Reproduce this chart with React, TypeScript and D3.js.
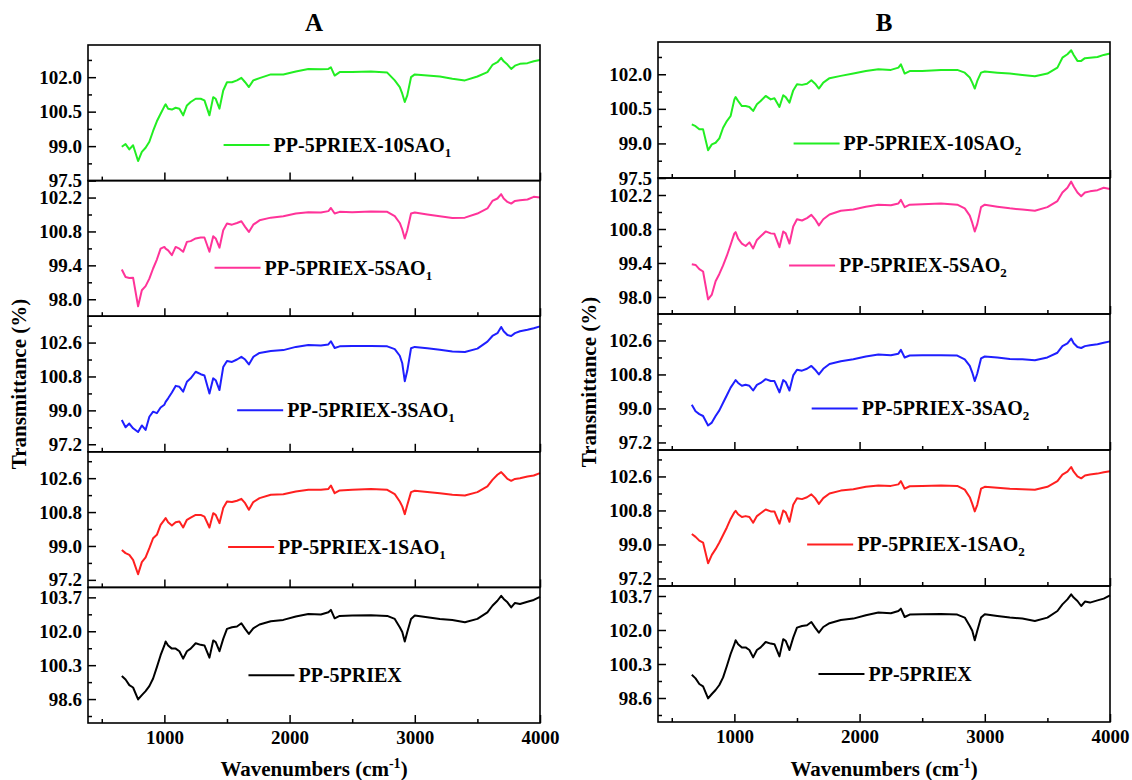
import React, { Component } from "react";
import * as d3 from "d3";

// wavenumber grid shared by every spectrum (cm-1)
const wavenumbers = [
  660, 690, 720, 750, 790, 820, 850, 880, 910, 940, 970, 1000, 1010, 1030, 1060, 1090, 1120, 1150,
  1180, 1210, 1250, 1290, 1320, 1360, 1390, 1410, 1440, 1470, 1500, 1540, 1580, 1615, 1645, 1675,
  1710, 1760, 1850, 1950, 2050, 2150, 2250, 2310, 2330, 2360, 2400, 2500, 2650, 2780, 2840, 2880,
  2900, 2920, 2940, 2970, 3000, 3100, 3200, 3300, 3400, 3500, 3580, 3620, 3660, 3690, 3710, 3740,
  3770, 3800, 3840, 3900, 3950, 4000,
];

// PP-5PRIEX (same sample in both panels)
const pp5priex = [
  99.76, 99.58, 99.3, 99.18, 98.58, 98.8, 99.0, 99.25, 99.63, 100.2, 100.8, 101.29, 101.49, 101.29,
  101.13, 101.13, 101.0, 100.63, 101.0, 101.13, 101.4, 101.32, 101.29, 100.68, 101.54, 101.46, 101.0,
  101.62, 102.12, 102.2, 102.24, 102.4, 102.12, 101.87, 102.15, 102.34, 102.5, 102.57, 102.74, 102.87,
  102.84, 102.95, 103.07, 102.65, 102.77, 102.79, 102.8, 102.77, 102.62, 102.2, 101.96, 101.49,
  101.96, 102.62, 102.79, 102.7, 102.62, 102.57, 102.45, 102.62, 102.95, 103.28, 103.53, 103.78,
  103.62, 103.45, 103.2, 103.42, 103.37, 103.48, 103.57, 103.73,
];

// panel A (SAO1)
const sao1_10 = [
  98.97, 99.09, 98.86, 99.04, 98.35, 98.75, 98.93, 99.19, 99.66, 100.08, 100.41, 100.73, 100.82,
  100.63, 100.59, 100.67, 100.63, 100.34, 100.77, 100.92, 101.06, 101.06, 100.99, 100.34, 101.13,
  101.06, 100.63, 101.42, 101.78, 101.78, 101.86, 101.97, 101.78, 101.57, 101.86, 101.96, 102.12,
  102.12, 102.25, 102.36, 102.35, 102.36, 102.43, 102.07, 102.22, 102.22, 102.25, 102.2, 101.86,
  101.57, 101.28, 100.92, 101.21, 102.0, 102.12, 102.07, 102.03, 101.93, 101.86, 102.03, 102.22,
  102.53, 102.65, 102.84, 102.69, 102.55, 102.36, 102.5, 102.58, 102.61, 102.69, 102.75,
];
const sao1_5 = [
  99.23, 98.92, 98.88, 98.89, 97.71, 98.37, 98.54, 98.85, 99.27, 99.64, 100.09, 100.16, 100.09,
  100.02, 99.82, 100.16, 100.09, 99.96, 100.37, 100.4, 100.51, 100.55, 100.55, 99.96, 100.6, 100.51,
  100.13, 100.85, 101.13, 101.08, 101.15, 101.22, 100.99, 100.78, 101.08, 101.26, 101.37, 101.43,
  101.54, 101.59, 101.58, 101.64, 101.77, 101.54, 101.61, 101.59, 101.62, 101.61, 101.43, 101.15,
  100.88, 100.51, 100.85, 101.54, 101.58, 101.5, 101.43, 101.36, 101.37, 101.54, 101.75, 102.06,
  102.16, 102.34, 102.16, 102.02, 101.95, 102.06, 102.09, 102.12, 102.23, 102.2,
];
const sao1_3 = [
  98.49, 98.1, 98.3, 98.05, 97.85, 98.2, 97.96, 98.66, 98.93, 98.85, 99.15, 99.3, 99.45, 99.64,
  99.95, 100.3, 100.25, 99.99, 100.52, 100.7, 101.05, 100.92, 100.85, 99.9, 100.7, 100.6, 100.08,
  101.3, 101.62, 101.57, 101.7, 101.84, 101.7, 101.44, 101.84, 102.05, 102.15, 102.2, 102.37, 102.47,
  102.44, 102.5, 102.67, 102.31, 102.4, 102.42, 102.42, 102.4, 102.25, 101.9, 101.5, 100.55, 101.1,
  102.3, 102.37, 102.3, 102.22, 102.12, 102.1, 102.28, 102.65, 102.95, 103.1, 103.43, 103.2, 103.0,
  102.95, 103.1, 103.2, 103.28, 103.36, 103.46,
];
const sao1_1 = [
  98.79, 98.62, 98.53, 98.26, 97.5, 98.14, 98.39, 98.88, 99.41, 99.59, 100.12, 100.39, 100.48, 100.26,
  100.09, 100.26, 100.3, 99.98, 100.39, 100.51, 100.65, 100.65, 100.56, 99.98, 100.74, 100.65, 100.21,
  101.01, 101.36, 101.33, 101.4, 101.5, 101.27, 100.92, 101.33, 101.54, 101.72, 101.75, 101.89,
  101.98, 101.98, 102.03, 102.21, 101.8, 101.95, 101.98, 102.02, 101.98, 101.75, 101.36, 101.1,
  100.69, 101.18, 101.86, 101.93, 101.86, 101.8, 101.72, 101.68, 101.86, 102.16, 102.51, 102.78,
  102.92, 102.78, 102.56, 102.46, 102.56, 102.6, 102.69, 102.74, 102.87,
];

// panel B (SAO2)
const sao2_10 = [
  99.83, 99.75, 99.61, 99.61, 98.7, 98.96, 99.03, 99.22, 99.68, 99.97, 100.19, 100.91, 101.01,
  100.84, 100.62, 100.62, 100.58, 100.41, 100.7, 100.84, 101.06, 100.91, 100.96, 100.58, 101.09,
  101.01, 100.77, 101.3, 101.57, 101.54, 101.59, 101.74, 101.59, 101.38, 101.64, 101.83, 101.93,
  102.03, 102.14, 102.22, 102.19, 102.29, 102.43, 102.03, 102.14, 102.14, 102.19, 102.19, 102.07,
  101.86, 101.64, 101.38, 101.71, 102.07, 102.12, 102.07, 102.03, 101.97, 101.91, 102.03, 102.29,
  102.72, 102.87, 103.04, 102.84, 102.58, 102.58, 102.7, 102.72, 102.75, 102.84, 102.9,
];
const sao2_5 = [
  99.35, 99.32, 99.15, 99.05, 97.9, 98.1, 98.65, 98.95, 99.3, 99.7, 100.15, 100.62, 100.67, 100.4,
  100.2, 100.1, 100.25, 100.0, 100.35, 100.5, 100.7, 100.62, 100.6, 100.05, 100.7, 100.62, 100.2,
  100.9, 101.2, 101.15, 101.25, 101.38, 101.2, 100.95, 101.2, 101.4, 101.55, 101.6, 101.72, 101.8,
  101.78, 101.85, 102.0, 101.7, 101.8, 101.82, 101.85, 101.8, 101.65, 101.35, 101.05, 100.7, 101.0,
  101.7, 101.8, 101.72, 101.65, 101.6, 101.55, 101.7, 101.95, 102.3, 102.5, 102.75, 102.55, 102.3,
  102.15, 102.3, 102.35, 102.4, 102.5, 102.45,
];
const sao2_3 = [
  99.2, 98.85, 98.7, 98.6, 98.1, 98.25, 98.6, 98.9, 99.3, 99.7, 100.1, 100.4, 100.5, 100.35, 100.2,
  100.25, 100.2, 99.95, 100.25, 100.35, 100.55, 100.45, 100.45, 99.85, 100.5, 100.4, 99.95, 100.75,
  101.05, 101.0, 101.1, 101.25, 101.05, 100.8, 101.1, 101.35, 101.5, 101.6, 101.75, 101.85, 101.82,
  101.9, 102.1, 101.7, 101.8, 101.82, 101.82, 101.8, 101.6, 101.25, 100.9, 100.45, 100.85, 101.65,
  101.75, 101.7, 101.62, 101.6, 101.55, 101.7, 101.95, 102.3, 102.45, 102.7, 102.45, 102.25, 102.2,
  102.3, 102.35, 102.4, 102.48, 102.55,
];
const sao2_1 = [
  99.55, 99.4, 99.2, 99.1, 98.0, 98.45, 98.75, 99.1, 99.5, 99.9, 100.35, 100.7, 100.78, 100.6,
  100.45, 100.5, 100.45, 100.15, 100.5, 100.65, 100.85, 100.75, 100.75, 100.1, 100.8, 100.7, 100.2,
  101.1, 101.45, 101.4, 101.5, 101.65, 101.45, 101.15, 101.45, 101.7, 101.85, 101.92, 102.05, 102.12,
  102.1, 102.18, 102.35, 101.95, 102.08, 102.1, 102.12, 102.1, 101.9, 101.5, 101.15, 100.75, 101.1,
  101.95, 102.05, 102.0, 101.95, 101.92, 101.9, 102.05, 102.35, 102.7, 102.85, 103.1, 102.85, 102.6,
  102.5, 102.65, 102.7, 102.75, 102.82, 102.88,
];

const seriesNames = ["PP-5PRIEX-10SAO", "PP-5PRIEX-5SAO", "PP-5PRIEX-3SAO", "PP-5PRIEX-1SAO", "PP-5PRIEX"];
const seriesColors = ["#22ee22", "#ff3399", "#1f1fff", "#ff2020", "#000000"];

// y ranges and labelled ticks of the five stacked rows (top to bottom)
const rowDomains = [
  [97.5, 103.4],
  [97.3, 102.9],
  [96.8, 104.0],
  [96.8, 104.0],
  [97.4, 104.2],
];
const rowTicks = [
  [97.5, 99.0, 100.5, 102.0],
  [98.0, 99.4, 100.8, 102.2],
  [97.2, 99.0, 100.8, 102.6],
  [97.2, 99.0, 100.8, 102.6],
  [98.6, 100.3, 102.0, 103.7],
];
const xTicks = [1000, 2000, 3000, 4000];
const xMinorTicks = [500, 1500, 2500, 3500];

const panels = [
  {
    title: "A",
    sub: "1",
    series: [sao1_10, sao1_5, sao1_3, sao1_1, pp5priex],
    box: { left: 88, right: 540, top: 45, bottom: 723 },
    // legend: [line start as fraction of width, y value]
    legend: [[0.3, 99.05], [0.28, 99.3], [0.33, 99.0], [0.31, 98.95], [0.355, 99.8]],
  },
  {
    title: "B",
    sub: "2",
    series: [sao2_10, sao2_5, sao2_3, sao2_1, pp5priex],
    box: { left: 658, right: 1110, top: 42, bottom: 722 },
    legend: [[0.3, 99.0], [0.29, 99.3], [0.34, 99.0], [0.33, 99.0], [0.355, 99.8]],
  },
];

const FONT = "'Liberation Serif', 'Times New Roman', serif";

class App extends Component {
  constructor(props) {
    super(props);
    this.chartRef = React.createRef();
  }

  componentDidMount() {
    this.renderChart();
  }

  renderChart() {
    const root = d3.select(this.chartRef.current);
    root.selectAll("*").remove();

    const svg = root
      .append("svg")
      .attr("width", 1132)
      .attr("height", 780)
      .style("position", "absolute")
      .style("left", 0)
      .style("top", 0)
      .style("background", "#fff")
      .style("font-family", FONT)
      .style("font-weight", "bold");

    panels.forEach((panel) => {
      const { left, right, top, bottom } = panel.box;
      const width = right - left;
      const rowH = (bottom - top) / 5;

      const x = d3.scaleLinear().domain([390, 4000]).range([left, right]);

      panel.series.forEach((values, i) => {
        const y0 = top + i * rowH;
        const y1 = y0 + rowH;
        const y = d3.scaleLinear().domain(rowDomains[i]).range([y1, y0]);
        const g = svg.append("g");

        // spectrum
        const line = d3
          .line()
          .x((d, j) => x(wavenumbers[j]))
          .y((d) => y(d));
        g.append("path")
          .datum(values)
          .attr("d", line)
          .attr("fill", "none")
          .attr("stroke", seriesColors[i])
          .attr("stroke-width", 2)
          .attr("stroke-linejoin", "round");

        // minor y ticks halfway between labelled ones
        const major = rowTicks[i];
        const step = major[1] - major[0];
        const minor = [major[0] - step / 2, ...major.map((t) => t + step / 2)].filter(
          (t) => t > rowDomains[i][0] && t < rowDomains[i][1]
        );

        const yAxis = g
          .append("g")
          .attr("transform", `translate(${left},0)`)
          .call(d3.axisLeft(y).tickValues(major).tickSize(-8).tickPadding(6).tickFormat(d3.format(".1f")));
        const yMinor = g
          .append("g")
          .attr("transform", `translate(${left},0)`)
          .call(d3.axisLeft(y).tickValues(minor).tickSize(-4).tickFormat(() => ""));

        const last = i === 4;
        const xAxis = g
          .append("g")
          .attr("transform", `translate(0,${y1})`)
          .call(
            d3
              .axisBottom(x)
              .tickValues(xTicks)
              .tickSize(-8)
              .tickPadding(8)
              .tickFormat((d) => (last ? String(d) : ""))
          );
        const xMinor = g
          .append("g")
          .attr("transform", `translate(0,${y1})`)
          .call(d3.axisBottom(x).tickValues(xMinorTicks).tickSize(-4).tickFormat(() => ""));

        [yAxis, yMinor, xAxis, xMinor].forEach((a) => {
          a.select(".domain").remove();
          a.selectAll("line").attr("stroke", "#000").attr("stroke-width", 1.5);
          a.selectAll("text")
            .attr("fill", "#000")
            .style("font-family", FONT)
            .style("font-weight", "bold")
            .style("font-size", "19px");
        });

        // frame
        g.append("rect")
          .attr("x", left)
          .attr("y", y0)
          .attr("width", width)
          .attr("height", rowH)
          .attr("fill", "none")
          .attr("stroke", "#000")
          .attr("stroke-width", 1.6);

        // legend
        const [frac, lv] = panel.legend[i];
        const lx = left + frac * width;
        const ly = y(lv);
        g.append("line")
          .attr("x1", lx)
          .attr("x2", lx + 46)
          .attr("y1", ly)
          .attr("y2", ly)
          .attr("stroke", seriesColors[i])
          .attr("stroke-width", 2);
        const label = g
          .append("text")
          .attr("x", lx + 50)
          .attr("y", ly)
          .attr("dy", "0.35em")
          .style("font-size", "20px")
          .text(seriesNames[i]);
        if (i < 4) {
          label.append("tspan").attr("dy", 5).style("font-size", "13px").text(panel.sub);
        }
      });

      // panel title
      svg
        .append("text")
        .attr("x", (left + right) / 2)
        .attr("y", 31)
        .attr("text-anchor", "middle")
        .style("font-size", "25px")
        .text(panel.title);

      // axis titles
      svg
        .append("text")
        .attr("transform", `translate(${left - 62},${(top + bottom) / 2}) rotate(-90)`)
        .attr("text-anchor", "middle")
        .style("font-size", "21px")
        .text("Transmittance (%)");

      const xt = svg
        .append("text")
        .attr("x", (left + right) / 2)
        .attr("y", 776)
        .attr("text-anchor", "middle")
        .style("font-size", "21px")
        .text("Wavenumbers (cm");
      xt.append("tspan").attr("dy", -8).style("font-size", "14px").text("-1");
      xt.append("tspan").attr("dy", 8).text(")");
    });
  }

  render() {
    return <div ref={this.chartRef}></div>;
  }
}

export default App;
